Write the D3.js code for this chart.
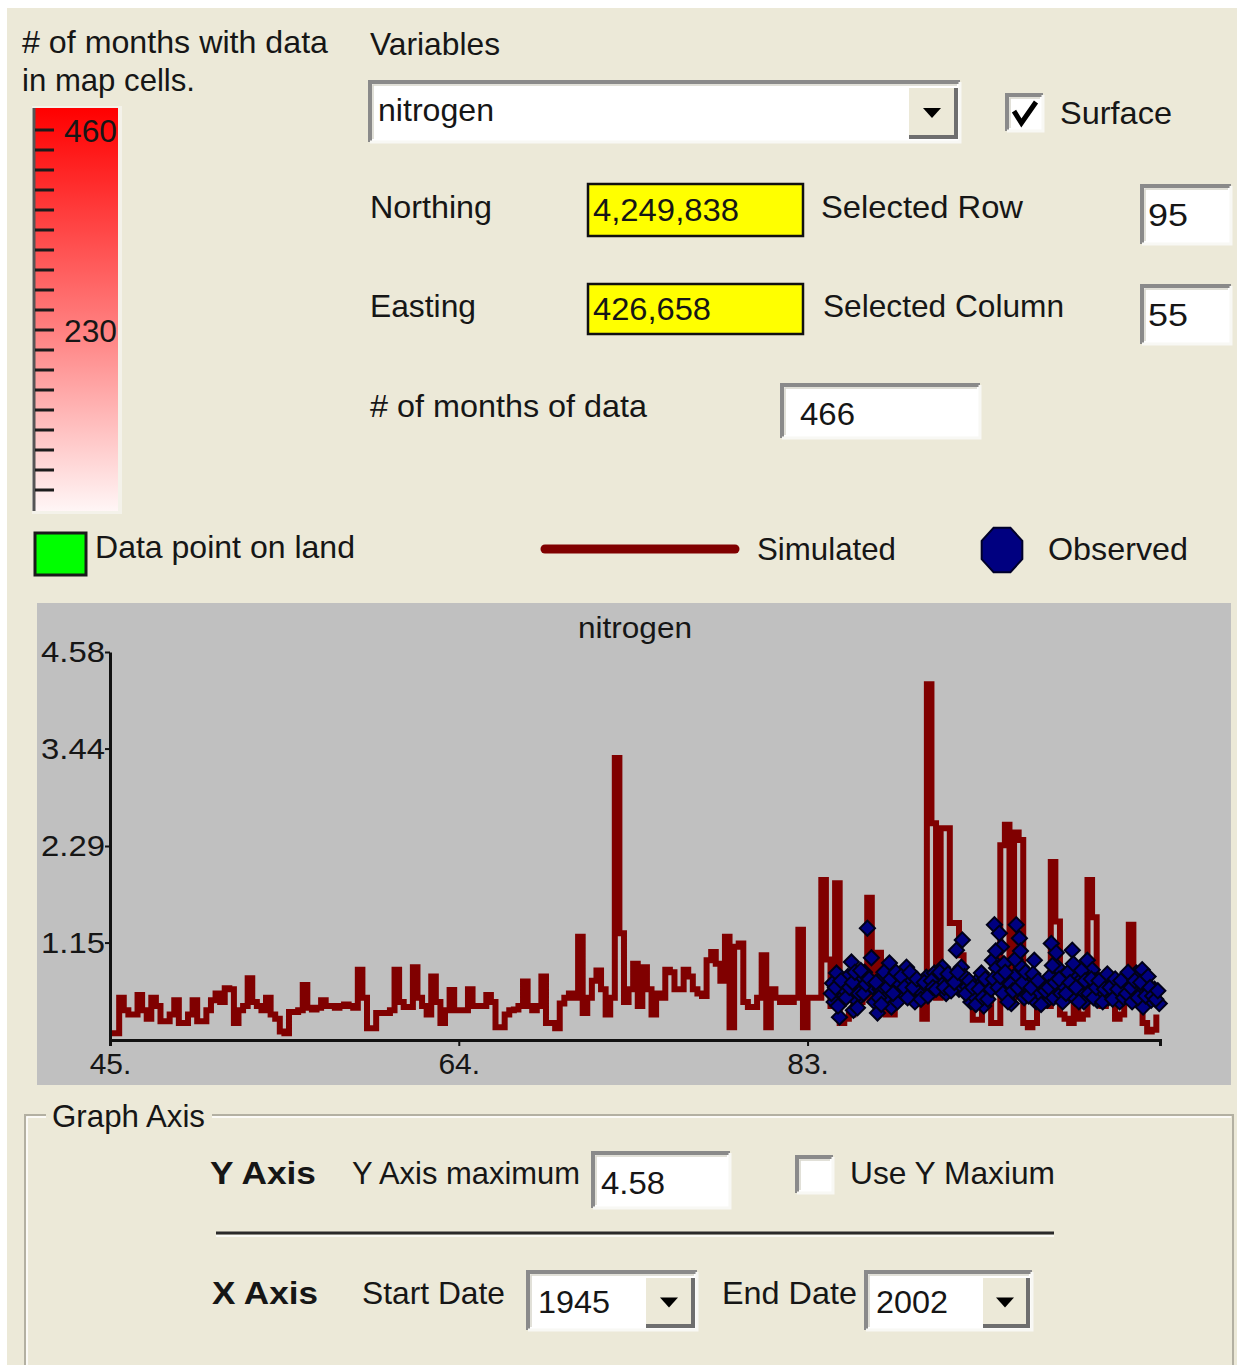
<!DOCTYPE html>
<html>
<head>
<meta charset="utf-8">
<script src="https://cdn.jsdelivr.net/npm/d3@7"></script>
<style>
  body { margin: 0; background: #ffffff; }
  svg { display: block; font-family: "Liberation Sans", Arial, sans-serif; }
</style>
</head>
<body>
<div id="form"></div>
<script>
// Simulated nitrogen, quarterly values starting in 1945 (one row per year)
const simStart = 1945;
const simValues = [
  0.08, 0.08, 0.50, 0.35,   // 1945
  0.30, 0.30, 0.53, 0.35,
  0.25, 0.50, 0.40, 0.22,
  0.22, 0.30, 0.47, 0.20,
  0.20, 0.30, 0.47, 0.22,
  0.22, 0.35, 0.47, 0.55,   // 1950
  0.45, 0.61, 0.60, 0.20,
  0.35, 0.40, 0.73, 0.45,
  0.40, 0.35, 0.50, 0.30,
  0.25, 0.10, 0.08, 0.33,
  0.33, 0.35, 0.65, 0.38,   // 1955
  0.36, 0.38, 0.47, 0.40,
  0.40, 0.38, 0.40, 0.42,
  0.40, 0.38, 0.83, 0.50,
  0.14, 0.14, 0.32, 0.32,
  0.32, 0.35, 0.83, 0.45,   // 1960
  0.39, 0.39, 0.86, 0.50,
  0.40, 0.30, 0.75, 0.45,
  0.20, 0.35, 0.59, 0.35,
  0.35, 0.35, 0.60, 0.40,
  0.40, 0.40, 0.53, 0.45,   // 1965
  0.15, 0.15, 0.30, 0.35,
  0.36, 0.40, 0.69, 0.40,
  0.35, 0.40, 0.75, 0.20,
  0.20, 0.14, 0.43, 0.50,
  0.55, 0.50, 1.22, 0.32,   // 1970
  0.50, 0.70, 0.82, 0.60,
  0.30, 0.50, 3.33, 1.26,
  0.45, 0.60, 0.90, 0.40,
  0.86, 0.60, 0.30, 0.55,
  0.50, 0.83, 0.80, 0.60,   // 1975
  0.60, 0.83, 0.75, 0.60,
  0.55, 0.52, 0.94, 1.04,
  0.90, 0.70, 1.22, 0.15,
  1.10, 1.14, 0.45, 0.39,
  0.39, 0.50, 1.00, 0.15,   // 1980
  0.60, 0.50, 0.45, 0.50,
  0.45, 0.50, 1.30, 0.15,
  0.50, 0.50, 0.50, 1.89,
  0.95, 0.40, 1.85, 0.20,
  0.25, 0.30, 0.55, 0.45,   // 1985
  0.50, 1.68, 0.50, 1.03,
  0.45, 0.30, 0.30, 0.55,
  0.65, 0.50, 0.45, 0.60,
  0.50, 0.25, 4.20, 2.56,
  0.50, 2.50, 2.50, 1.38,   // 1990
  1.38, 1.00, 0.55, 0.45,
  0.24, 0.24, 0.50, 0.60,
  0.20, 0.20, 2.30, 2.54,
  0.50, 2.45, 2.36, 0.20,
  0.15, 0.20, 0.50, 0.40,   // 1995
  0.40, 2.10, 1.40, 0.30,
  0.25, 0.20, 0.45, 0.25,
  0.30, 1.89, 1.45, 0.60,
  0.40, 0.50, 0.45, 0.25,
  0.30, 0.45, 1.36, 0.50,   // 2000
  0.45, 0.20, 0.10, 0.12,
  0.30                      // 2002
];

// Observed samples (decimal year, value)
const obsYears = [
  1984.36, 1984.45, 1984.58, 1984.74, 1984.90, 1985.01, 1985.20, 1985.39, 1985.50, 1985.66,
  1985.80, 1985.99, 1986.10, 1986.26, 1986.48, 1986.54, 1986.65, 1986.81, 1986.95, 1987.08,
  1987.25, 1987.46, 1987.57, 1987.75, 1987.90, 1988.00, 1988.20, 1988.39, 1988.50, 1988.66,
  1988.85, 1989.09, 1989.25, 1989.47, 1989.65, 1989.91, 1990.10, 1990.35, 1990.55, 1990.73,
  1990.90, 1991.11, 1991.25, 1991.38, 1991.43, 1991.55, 1991.71, 1991.90, 1992.09, 1992.25,
  1992.47, 1992.60, 1992.74, 1992.90, 1993.07, 1993.18, 1993.30, 1993.45, 1993.56, 1993.70,
  1993.83, 1994.00, 1994.10, 1994.25, 1994.37, 1994.54, 1994.65, 1994.80, 1994.97, 1995.10,
  1995.35, 1995.45, 1995.63, 1995.85, 1996.06, 1996.20, 1996.28, 1996.40, 1996.55, 1996.61,
  1996.80, 1996.99, 1997.20, 1997.42, 1997.55, 1997.70, 1997.85, 1997.97, 1998.05, 1998.24,
  1998.40, 1998.51, 1998.65, 1998.78, 1999.00, 1999.27, 1999.40, 1999.54, 1999.70, 1999.82,
  2000.00, 2000.14, 2000.30, 2000.53, 2000.75, 2000.91, 2001.07, 2001.23, 2001.28, 2001.35,
  2001.50, 2001.60, 2001.72, 2001.90, 2002.16,
  1984.30, 1984.52, 1984.66, 1984.82, 1985.10, 1985.28, 1985.45, 1985.58, 1985.72, 1985.90,
  1986.05, 1986.18, 1986.36, 1986.72, 1986.88, 1987.02, 1987.16, 1987.35, 1987.52, 1987.66,
  1987.82, 1988.10, 1988.28, 1988.45, 1988.58, 1988.75, 1988.95, 1989.18, 1989.36, 1989.56,
  1989.75, 1989.83, 1990.00, 1990.20, 1990.45, 1990.65, 1990.82, 1991.00, 1991.18, 1991.62,
  1991.80, 1992.00, 1992.17, 1992.35, 1992.54, 1992.68, 1992.82, 1993.00, 1993.12, 1993.25,
  1993.38, 1993.50, 1993.64, 1993.77, 1993.92, 1994.05, 1994.18, 1994.30, 1994.45, 1994.60,
  1994.72, 1994.88, 1995.04, 1995.18, 1995.28, 1995.55, 1995.72, 1995.95, 1996.13, 1996.34,
  1996.48, 1996.70, 1996.90, 1997.08, 1997.30, 1997.48, 1997.62, 1997.78, 1997.92, 1998.12,
  1998.32, 1998.46, 1998.58, 1998.72, 1998.88, 1999.08, 1999.18, 1999.33, 1999.48, 1999.62,
  1999.76, 1999.90, 2000.07, 2000.22, 2000.38, 2000.46, 2000.62, 2000.68, 2000.83, 2001.00,
  2001.15, 2001.42, 2001.55, 2001.66, 2001.80, 2001.97, 2002.08
];
const obsValues = [
  0.67, 0.45, 0.79, 0.27, 0.55, 0.59, 0.75, 0.92, 0.35, 0.47,
  0.55, 0.71, 0.80, 1.32, 0.97, 0.63, 0.45, 0.32, 0.60, 0.74,
  0.50, 0.91, 0.39, 0.65, 0.45, 0.67, 0.55, 0.86, 0.70, 0.51,
  0.45, 0.63, 0.55, 0.74, 0.60, 0.79, 0.70, 0.86, 0.55, 0.67,
  0.75, 1.06, 0.60, 0.86, 1.18, 0.75, 0.63, 0.45, 0.51, 0.70,
  0.79, 0.40, 0.59, 0.65, 0.94, 1.36, 0.85, 1.26, 1.10, 0.90,
  0.67, 0.55, 0.43, 0.75, 1.36, 1.20, 0.86, 0.50, 0.63, 0.70,
  0.94, 0.45, 0.55, 0.65, 0.47, 0.75, 1.14, 0.50, 1.03, 0.86,
  0.55, 0.63, 0.80, 1.06, 0.50, 0.74, 0.70, 0.55, 0.45, 0.94,
  0.60, 0.83, 0.70, 0.47, 0.55, 0.67, 0.50, 0.71, 0.65, 0.55,
  0.45, 0.59, 0.65, 0.74, 0.50, 0.79, 0.59, 0.83, 0.39, 0.70,
  0.63, 0.55, 0.47, 0.60, 0.43,
  0.55, 0.62, 0.40, 0.70, 0.50, 0.62, 0.68, 0.80, 0.38, 0.82,
  0.55, 0.66, 0.72, 0.68, 0.50, 0.42, 0.80, 0.62, 0.72, 0.55,
  0.80, 0.75, 0.62, 0.50, 0.80, 0.62, 0.72, 0.48, 0.68, 0.52,
  0.70, 0.62, 0.60, 0.80, 0.62, 0.78, 0.58, 0.68, 0.80, 0.55,
  0.70, 0.62, 0.42, 0.60, 0.50, 0.72, 0.48, 0.60, 0.72, 1.05,
  0.62, 0.75, 0.55, 0.80, 0.45, 0.66, 0.58, 0.95, 0.62, 1.05,
  0.68, 0.80, 0.52, 0.62, 0.78, 0.70, 0.42, 0.58, 0.62, 0.88,
  0.68, 0.72, 0.45, 0.55, 0.68, 0.90, 0.62, 0.45, 0.82, 0.70,
  0.55, 0.72, 0.50, 0.62, 0.70, 0.45, 0.60, 0.78, 0.62, 0.48,
  0.72, 0.60, 0.70, 0.50, 0.55, 0.80, 0.62, 0.45, 0.70, 0.50,
  0.68, 0.52, 0.75, 0.62, 0.52, 0.48, 0.58
];

const yTicks = [1.15, 2.29, 3.44, 4.58];
const xTicks = [1945, 1964, 1983];
const yMax = 4.58;
const xEnd = 2002.2;

const legendTicks = [460, 230];   // labelled values of the colour bar
const legendMax = 460;

const W = 1237, H = 1365;
const BG = '#ece9d8';
const INK = '#161616';

const svg = d3.select('#form').append('svg')
  .attr('width', W).attr('height', H);

svg.append('rect').attr('x', 7).attr('y', 8).attr('width', W - 7).attr('height', H - 8).attr('fill', BG);

// ---------- helpers ----------
function label(x, y, str, width, opts = {}) {
  const t = svg.append('text')
    .attr('x', x).attr('y', y)
    .attr('font-size', opts.size || 32)
    .attr('font-weight', opts.weight || 'normal')
    .attr('text-anchor', opts.anchor || 'start')
    .attr('fill', INK)
    .text(str);
  if (width) t.attr('textLength', width).attr('lengthAdjust', 'spacingAndGlyphs');
  return t;
}

function sunkenBox(x, y, w, h, fill) {
  svg.append('rect').attr('x', x).attr('y', y).attr('width', w).attr('height', h).attr('fill', fill || '#fff');
  svg.append('path')
    .attr('d', `M${x},${y + h} V${y} H${x + w}`)
    .attr('fill', 'none').attr('stroke', '#8a8a8a').attr('stroke-width', 4);
  svg.append('path')
    .attr('d', `M${x + 3},${y + h - 3} V${y + 3} H${x + w - 3}`)
    .attr('fill', 'none').attr('stroke', '#d8d6cc').attr('stroke-width', 1.5);
  svg.append('path')
    .attr('d', `M${x},${y + h} H${x + w} V${y}`)
    .attr('fill', 'none').attr('stroke', '#f8f8f4').attr('stroke-width', 3);
}

function dropButton(x, y, w, h) {
  svg.append('rect').attr('x', x).attr('y', y).attr('width', w).attr('height', h).attr('fill', BG);
  svg.append('path')
    .attr('d', `M${x},${y + h} V${y} H${x + w}`)
    .attr('fill', 'none').attr('stroke', '#ffffff').attr('stroke-width', 2);
  svg.append('path')
    .attr('d', `M${x + 1},${y + h} H${x + w} V${y + 1}`)
    .attr('fill', 'none').attr('stroke', '#6e6e6e').attr('stroke-width', 4);
  const cx = x + w / 2, cy = y + h / 2;
  svg.append('path')
    .attr('d', `M${cx - 9},${cy - 4} H${cx + 9} L${cx},${cy + 6} Z`)
    .attr('fill', '#000');
}

function checkBox(x, y, s, checked) {
  sunkenBox(x, y, s, s, '#fff');
  if (checked) {
    svg.append('path')
      .attr('d', `M${x + 7},${y + s * 0.45} L${x + s * 0.4},${y + s - 8} L${x + s - 7},${y + 7}`)
      .attr('fill', 'none').attr('stroke', '#000').attr('stroke-width', 5);
  }
}

function yellowBox(x, y, w, h) {
  svg.append('rect').attr('x', x).attr('y', y).attr('width', w).attr('height', h)
    .attr('fill', '#ffff00').attr('stroke', '#111').attr('stroke-width', 2.5);
}

// ---------- colour bar legend ----------
const grad = svg.append('defs').append('linearGradient')
  .attr('id', 'redGrad').attr('x1', 0).attr('y1', 0).attr('x2', 0).attr('y2', 1);
grad.append('stop').attr('offset', '0%').attr('stop-color', '#ff0000');
grad.append('stop').attr('offset', '55%').attr('stop-color', '#ff8080');
grad.append('stop').attr('offset', '100%').attr('stop-color', '#fff6f6');

svg.append('rect').attr('x', 32).attr('y', 106).attr('width', 90).attr('height', 408).attr('fill', '#f4f2ea');
svg.append('rect').attr('x', 34).attr('y', 108).attr('width', 84).attr('height', 403).attr('fill', 'url(#redGrad)');
svg.append('line').attr('x1', 34).attr('x2', 34).attr('y1', 108).attr('y2', 511)
  .attr('stroke', '#555').attr('stroke-width', 3);

const legendY = d3.scaleLinear().domain([0, legendMax]).range([530, 130]);
const minorTicks = d3.range(legendMax, 40, -legendMax / 20);
svg.append('g').selectAll('line').data(minorTicks).join('line')
  .attr('x1', 35).attr('x2', 54)
  .attr('y1', d => legendY(d)).attr('y2', d => legendY(d))
  .attr('stroke', '#1c1c1c').attr('stroke-width', 3);
svg.append('g').selectAll('text').data(legendTicks).join('text')
  .attr('x', 64).attr('y', d => legendY(d) + 12)
  .attr('font-size', 31).attr('fill', INK)
  .attr('textLength', 53).attr('lengthAdjust', 'spacingAndGlyphs')
  .text(d => d);

label(22, 53, '# of months with data', 306);
label(22, 91, 'in map cells.', 173);

// ---------- selection controls ----------
label(370, 55, 'Variables', 130);
sunkenBox(370, 82, 590, 60, '#fff');
label(378, 121, 'nitrogen', 116);
dropButton(908, 87, 48, 50);

checkBox(1007, 95, 36, true);
label(1060, 124, 'Surface', 112);

label(370, 218, 'Northing', 122);
yellowBox(588, 184, 215, 52);
label(593, 221, '4,249,838', 146);
label(821, 218, 'Selected Row', 202);
sunkenBox(1142, 186, 89, 58, '#fff');
label(1148, 226, '95', 40);

label(370, 317, 'Easting', 106);
yellowBox(588, 284, 215, 50);
label(593, 320, '426,658', 118);
label(823, 317, 'Selected Column', 241);
sunkenBox(1142, 286, 89, 58, '#fff');
label(1148, 326, '55', 40);

label(370, 417, '# of months of data', 277);
sunkenBox(782, 385, 198, 53, '#fff');
label(800, 425, '466', 55);

// ---------- legend row ----------
svg.append('rect').attr('x', 35).attr('y', 533).attr('width', 51).attr('height', 42)
  .attr('fill', '#00ff00').attr('stroke', '#1a1a1a').attr('stroke-width', 3);
label(95, 558, 'Data point on land', 260);

svg.append('line').attr('x1', 545).attr('x2', 735).attr('y1', 549).attr('y2', 549)
  .attr('stroke', '#800000').attr('stroke-width', 9).attr('stroke-linecap', 'round');
label(757, 560, 'Simulated', 139);

const oct = d3.range(8).map(i => {
  const a = Math.PI / 8 + i * Math.PI / 4;
  return [1002 + 22 * Math.cos(a), 550 + 24 * Math.sin(a)];
});
svg.append('path').attr('d', d3.line()(oct) + 'Z')
  .attr('fill', '#000080').attr('stroke', '#00002a').attr('stroke-width', 2);
label(1048, 560, 'Observed', 140);

// ---------- chart ----------
svg.append('rect').attr('x', 37).attr('y', 603).attr('width', 1194).attr('height', 482).attr('fill', '#c0c0c0');

const x = d3.scaleLinear().domain([simStart, xEnd]).range([110, 1160]);
const y = d3.scaleLinear().domain([0, yMax]).range([1040, 652]);

const simData = simValues.map((v, i) => ({ year: simStart + i / 4, value: v }));
const obsData = obsYears.map((yr, i) => ({ year: yr, value: obsValues[i] }));

const chart = svg.append('g');

chart.append('path')
  .datum(simData)
  .attr('fill', 'none')
  .attr('stroke', '#800000')
  .attr('stroke-width', 6)
  .attr('stroke-linejoin', 'miter')
  .attr('d', d3.line().x(d => x(d.year)).y(d => y(d.value)).curve(d3.curveStepAfter));

chart.append('g').selectAll('path')
  .data(obsData)
  .join('path')
  .attr('transform', d => `translate(${x(d.year)},${y(d.value)}) rotate(45)`)
  .attr('d', d3.symbol(d3.symbolSquare, 115)())
  .attr('fill', '#000080')
  .attr('stroke', '#000018')
  .attr('stroke-width', 2);

const yAxis = d3.axisLeft(y)
  .tickValues(yTicks)
  .tickFormat(d3.format('.2f'))
  .tickSize(5)
  .tickSizeOuter(0)
  .tickPadding(0);

const xAxis = d3.axisBottom(x)
  .tickValues(xTicks)
  .tickFormat(d => String(d).slice(2) + '.')
  .tickSize(6)
  .tickSizeOuter(6)
  .tickPadding(7);

const yAxisG = chart.append('g').attr('transform', 'translate(110,0)').call(yAxis);
const xAxisG = chart.append('g').attr('transform', 'translate(0,1040)').call(xAxis);

[yAxisG, xAxisG].forEach(g => {
  g.select('.domain').attr('stroke', '#111').attr('stroke-width', 3);
  g.selectAll('.tick line').attr('stroke', '#111').attr('stroke-width', 2);
  g.selectAll('.tick text')
    .attr('font-size', 30)
    .attr('font-family', '"Liberation Sans", Arial, sans-serif')
    .attr('fill', INK);
});
yAxisG.selectAll('.tick text').attr('textLength', 64).attr('lengthAdjust', 'spacingAndGlyphs');

chart.append('text')
  .attr('x', 635).attr('y', 638)
  .attr('text-anchor', 'middle')
  .attr('font-size', 29)
  .attr('fill', INK)
  .attr('textLength', 114).attr('lengthAdjust', 'spacingAndGlyphs')
  .text('nitrogen');

// ---------- Graph Axis group ----------
svg.append('path')
  .attr('d', 'M25,1365 V1115 H1233 V1365')
  .attr('fill', 'none').attr('stroke', '#b3b0a2').attr('stroke-width', 2);
svg.append('path')
  .attr('d', 'M27,1365 V1117 H1231')
  .attr('fill', 'none').attr('stroke', '#ffffff').attr('stroke-width', 1.5);
svg.append('rect').attr('x', 46).attr('y', 1100).attr('width', 166).attr('height', 30).attr('fill', BG);
label(52, 1127, 'Graph Axis', 153);

label(210, 1184, 'Y Axis', 106, { weight: 'bold' });
label(352, 1184, 'Y Axis maximum', 228);
sunkenBox(593, 1153, 137, 55, '#fff');
label(601, 1194, '4.58', 64);
checkBox(797, 1157, 36, false);
label(850, 1184, 'Use Y Maxium', 205);

svg.append('line').attr('x1', 216).attr('x2', 1054).attr('y1', 1233).attr('y2', 1233)
  .attr('stroke', '#2a2a2a').attr('stroke-width', 3);
svg.append('line').attr('x1', 216).attr('x2', 1054).attr('y1', 1236).attr('y2', 1236)
  .attr('stroke', '#ffffff').attr('stroke-width', 1.5);

label(212, 1304, 'X Axis', 106, { weight: 'bold' });
label(362, 1304, 'Start Date', 143);
sunkenBox(528, 1272, 169, 58, '#fff');
label(538, 1313, '1945', 72);
dropButton(645, 1277, 48, 49);
label(722, 1304, 'End Date', 135);
sunkenBox(866, 1272, 166, 58, '#fff');
label(876, 1313, '2002', 72);
dropButton(982, 1277, 46, 49);
</script>
</body>
</html>
